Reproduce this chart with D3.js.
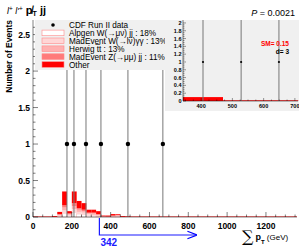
<!DOCTYPE html>
<html>
<head>
<meta charset="utf-8">
<script src="https://cdn.jsdelivr.net/npm/d3@7"></script>
<style>
  body { margin: 0; background: #fff; }
  svg { font-family: "Liberation Sans", Arial, sans-serif; display: block; }
</style>
</head>
<body>
<div id="chart"></div>
<script>
// histogram bins (lower edges, GeV) and stacked background components
var binEdges = [100, 125, 150, 175, 200, 225, 250, 275, 300, 325, 350, 375, 400, 425, 450, 475, 500];
var alpgenW  = [0.00, 0.01, 0.05, 0.02, 0.06, 0.04, 0.03, 0.02, 0.02, 0.01, 0.00, 0.00, 0.01, 0.01, 0.00, 0.00];
var madW     = [0.00, 0.01, 0.04, 0.01, 0.05, 0.03, 0.03, 0.02, 0.01, 0.01, 0.00, 0.00, 0.00, 0.01, 0.00, 0.00];
var herwigTT = [0.00, 0.01, 0.04, 0.01, 0.04, 0.03, 0.02, 0.01, 0.02, 0.01, 0.01, 0.00, 0.01, 0.00, 0.00, 0.00];
var madZ     = [0.00, 0.01, 0.03, 0.01, 0.04, 0.02, 0.02, 0.01, 0.01, 0.01, 0.00, 0.01, 0.00, 0.01, 0.00, 0.00];
var other    = [0.01, 0.03, 0.19, 0.03, 0.16, 0.10, 0.09, 0.04, 0.04, 0.04, 0.01, 0.01, 0.02, 0.01, 0.01, 0.005];

var dataX = [175, 211, 273, 350, 489, 669];
var dataY = [1, 1, 1, 1, 1, 1];

var insetX = [406, 528, 649];
var insetY = [1, 1, 1];
var insetBins = [342, 470, 720];
var insetSM = [0.1, 0.005];

var legendNames = ["CDF Run II data", "Alpgen W(\u2192\u03bc\u03bd) jj : 18%", "MadEvent W(\u2192l\u03bd)\u03b3\u03b3 : 13%",
                   "Herwig t\u0305t : 13%", "MadEvent Z(\u2192\u03bc\u03bc) jj : 11%", "Other"];
var fillColors = ["#ffffff", "#ffd6d6", "#ffb0b0", "#ff7a7a", "#ff0000"];

var xTicks = [0, 200, 400, 600, 800, 1000, 1200];
var yTicks = [0, 0.5, 1, 1.5, 2, 2.5];
var insetXTicks = [400, 500, 600, 700];
var insetYTicks = [0, 0.2, 0.4, 0.6, 0.8, 1, 1.2, 1.4, 1.6, 1.8, 2];
var cut = 342;

var width = 299, height = 247;
var svg = d3.select("#chart").append("svg").attr("width", width).attr("height", height);

var x = d3.scaleLinear().domain([0, 1360]).range([33, 297]);
var y = d3.scaleLinear().domain([0, 2.7]).range([217, 20]);

// stacked histogram
var comps = [alpgenW, madW, herwigTT, madZ, other];
var rows = binEdges.slice(0, -1).map(function(e, i) {
    var r = {x0: e, x1: binEdges[i + 1]};
    comps.forEach(function(c, k) { r["c" + k] = c[i]; });
    return r;
});
var stack = d3.stack().keys(comps.map(function(c, k) { return "c" + k; }))(rows);

// pink baseline
svg.append("line").attr("x1", x(0)).attr("x2", x(1360)).attr("y1", y(0) - 0.5).attr("y2", y(0) - 0.5)
    .attr("stroke", "#ff8080").attr("stroke-width", 1);

stack.forEach(function(layer, k) {
    svg.append("g").selectAll("rect").data(layer).enter().append("rect")
        .attr("x", function(d) { return x(d.data.x0); })
        .attr("width", function(d) { return x(d.data.x1) - x(d.data.x0); })
        .attr("y", function(d) { return y(d[1]); })
        .attr("height", function(d) { return y(d[0]) - y(d[1]); })
        .attr("fill", fillColors[k])
        .attr("stroke", k == 0 ? "#ffc0c0" : "none").attr("stroke-width", 0.5);
});

// data points with error bars
svg.append("g").selectAll("line").data(dataX).enter().append("line")
    .attr("x1", function(d) { return x(d); }).attr("x2", function(d) { return x(d); })
    .attr("y1", y(0)).attr("y2", y(2.7))
    .attr("stroke", "#777").attr("stroke-width", 1);
svg.append("g").selectAll("circle").data(dataX).enter().append("circle")
    .attr("cx", function(d) { return x(d); })
    .attr("cy", function(d, i) { return y(dataY[i]); })
    .attr("r", 2.2).attr("fill", "#000");

// axes
var xAxis = svg.append("g").attr("transform", "translate(0," + y(0) + ")");
xAxis.append("line").attr("x1", x(0)).attr("x2", x(1360)).attr("stroke", "#000").attr("stroke-width", 0.5);
xAxis.selectAll(".mt").data(d3.range(0, 1351, 50)).enter().append("line")
    .attr("x1", function(d) { return x(d); }).attr("x2", function(d) { return x(d); })
    .attr("y1", 0).attr("y2", function(d) { return d % 200 == 0 ? -5 : -2.5; })
    .attr("stroke", "#000").attr("stroke-width", 0.5);
xAxis.selectAll("text").data(xTicks).enter().append("text")
    .attr("x", function(d) { return x(d); }).attr("y", 12)
    .attr("text-anchor", "middle").attr("font-size", 8.5).attr("font-weight", "bold")
    .text(function(d) { return d; });

var yAxis = svg.append("g").attr("transform", "translate(" + x(0) + ",0)");
yAxis.append("line").attr("y1", y(0)).attr("y2", y(2.7)).attr("stroke", "#000").attr("stroke-width", 0.5);
yAxis.selectAll(".mt").data(d3.range(0, 27)).enter().append("line")
    .attr("y1", function(d) { return y(d / 10); }).attr("y2", function(d) { return y(d / 10); })
    .attr("x1", 0).attr("x2", function(d) { return d % 5 == 0 ? 5 : 2.5; })
    .attr("stroke", "#000").attr("stroke-width", 0.5);
yAxis.selectAll("text").data(yTicks).enter().append("text")
    .attr("x", -3).attr("y", function(d) { return y(d) + 3; })
    .attr("text-anchor", "end").attr("font-size", 8.5).attr("font-weight", "bold")
    .text(function(d) { return d; });

svg.append("text").attr("transform", "translate(12,20) rotate(-90)")
    .attr("text-anchor", "end").attr("font-size", 8.5).attr("font-weight", "bold")
    .text("Number of Events");

// legend
var leg = svg.append("g");
leg.append("rect").attr("x", 35).attr("y", 20).attr("width", 130).attr("height", 50).attr("fill", "#f0f0f0");
legendNames.forEach(function(name, i) {
    var ly = 25 + i * 7.9;
    if (i == 0) {
        leg.append("circle").attr("cx", 53).attr("cy", ly).attr("r", 1.8).attr("fill", "#000");
    } else {
        leg.append("rect").attr("x", 42).attr("y", ly - 2.8).attr("width", 22).attr("height", 5.6)
            .attr("fill", fillColors[i - 1]).attr("stroke", "#ff8a8a").attr("stroke-width", 0.6);
    }
    leg.append("text").attr("x", 69).attr("y", ly + 3).attr("font-size", 8.2)
        .text(name);
});

// title and p-value
var title = svg.append("text").attr("x", 7).attr("y", 14);
title.append("tspan").attr("font-size", 9).attr("font-style", "italic").text("l");
title.append("tspan").attr("font-size", 6.5).attr("dy", -3).text("+");
title.append("tspan").attr("font-size", 9).attr("font-style", "italic").attr("dy", 3).text(" l'");
title.append("tspan").attr("font-size", 6.5).attr("dy", -3).text("+");
title.append("tspan").attr("font-size", 11).attr("font-weight", "bold").attr("dy", 3).text(" p\u0338");
title.append("tspan").attr("font-size", 7).attr("font-weight", "bold").attr("dy", 2).text("T");
title.append("tspan").attr("font-size", 11).attr("font-weight", "bold").attr("dy", -2).text(" jj");

var pv = svg.append("text").attr("x", 295).attr("y", 16).attr("text-anchor", "end").attr("font-size", 9);
pv.append("tspan").attr("font-style", "italic").text("P");
pv.append("tspan").text(" = 0.0021");

// threshold arrow
svg.append("defs").append("marker").attr("id", "arr").attr("viewBox", "0 0 10 10")
    .attr("refX", 9).attr("refY", 5).attr("markerWidth", 8).attr("markerHeight", 8).attr("orient", "auto")
    .append("path").attr("d", "M0,1 L10,5 L0,9").attr("fill", "none").attr("stroke", "#0000ff").attr("stroke-width", 1.2);
svg.append("path")
    .attr("d", "M" + x(cut) + "," + (y(0) + 1) + " V235 H" + x(840))
    .attr("fill", "none").attr("stroke", "#1a1aff").attr("stroke-width", 1.2)
    .attr("marker-end", "url(#arr)");
svg.append("text").attr("x", x(cut) + 1).attr("y", 246).attr("font-size", 10).attr("font-weight", "bold")
    .attr("fill", "#1a1aff").text(cut);

// x label
var xl = svg.append("text").attr("x", 242).attr("y", 242);
xl.append("tspan").attr("font-size", 16).attr("font-family", "DejaVu Serif").text("\u2211");
xl.append("tspan").attr("font-size", 9).attr("font-weight", "bold").attr("dx", 2).attr("dy", -2).text("p");
xl.append("tspan").attr("font-size", 6).attr("font-weight", "bold").attr("dy", 4).text("T");
xl.append("tspan").attr("font-size", 8).attr("dy", -4).text(" (GeV)");

// inset
var ix = d3.scaleLinear().domain([342, 710]).range([183, 298]);
var iy = d3.scaleLinear().domain([0, 2.05]).range([101, 21]);
var inset = svg.append("g");
inset.append("rect").attr("x", 165).attr("y", 20).attr("width", 134).attr("height", 91).attr("fill", "#f0f0f0");

inset.append("line").attr("x1", ix(342)).attr("x2", ix(710)).attr("y1", iy(0) - 0.5).attr("y2", iy(0) - 0.5)
    .attr("stroke", "#ff6060").attr("stroke-width", 1);
inset.selectAll(".bin").data(insetSM).enter().append("rect")
    .attr("x", function(d, i) { return ix(insetBins[i]); })
    .attr("width", function(d, i) { return ix(insetBins[i + 1]) - ix(insetBins[i]); })
    .attr("y", function(d) { return iy(d); })
    .attr("height", function(d) { return iy(0) - iy(d); })
    .attr("fill", "#ff0000");

inset.selectAll(".el").data(insetX).enter().append("line")
    .attr("x1", function(d) { return ix(d); }).attr("x2", function(d) { return ix(d); })
    .attr("y1", iy(0)).attr("y2", 20)
    .attr("stroke", "#777").attr("stroke-width", 1);
inset.selectAll(".pt").data(insetX).enter().append("circle")
    .attr("cx", function(d) { return ix(d); })
    .attr("cy", function(d, i) { return iy(insetY[i]); })
    .attr("r", 1.1).attr("fill", "#000");

inset.append("line").attr("x1", ix(342)).attr("x2", ix(342)).attr("y1", iy(0)).attr("y2", 20)
    .attr("stroke", "#000").attr("stroke-width", 0.5);
inset.append("line").attr("x1", ix(342)).attr("x2", 298).attr("y1", iy(0)).attr("y2", iy(0))
    .attr("stroke", "#000").attr("stroke-width", 0.5);
inset.selectAll(".iyt").data(d3.range(0, 41)).enter().append("line")
    .attr("x1", ix(342)).attr("x2", function(d) { return ix(342) + (d % 4 == 0 ? 3 : 1.5); })
    .attr("y1", function(d) { return iy(d / 20); }).attr("y2", function(d) { return iy(d / 20); })
    .attr("stroke", "#000").attr("stroke-width", 0.4);
inset.selectAll(".iyl").data(insetYTicks).enter().append("text")
    .attr("x", ix(342) - 1.5).attr("y", function(d) { return iy(d) + 2; })
    .attr("text-anchor", "end").attr("font-size", 5.5).attr("font-weight", "bold")
    .text(function(d) { return d; });
inset.selectAll(".ixt").data(d3.range(350, 711, 25)).enter().append("line")
    .attr("x1", function(d) { return ix(d); }).attr("x2", function(d) { return ix(d); })
    .attr("y1", iy(0)).attr("y2", function(d) { return iy(0) - (d % 100 == 0 ? 3 : 1.5); })
    .attr("stroke", "#000").attr("stroke-width", 0.4);
inset.selectAll(".ixl").data(insetXTicks).enter().append("text")
    .attr("x", function(d) { return ix(d); }).attr("y", iy(0) + 7)
    .attr("text-anchor", "middle").attr("font-size", 5.5).attr("font-weight", "bold")
    .text(function(d) { return d; });

inset.append("text").attr("x", 289).attr("y", 46).attr("text-anchor", "end")
    .attr("font-size", 6.5).attr("font-weight", "bold").attr("fill", "#ff0000").text("SM= 0.15");
inset.append("text").attr("x", 289).attr("y", 54).attr("text-anchor", "end")
    .attr("font-size", 6.5).attr("font-weight", "bold").attr("fill", "#000").text("d= 3");
</script>
</body>
</html>
